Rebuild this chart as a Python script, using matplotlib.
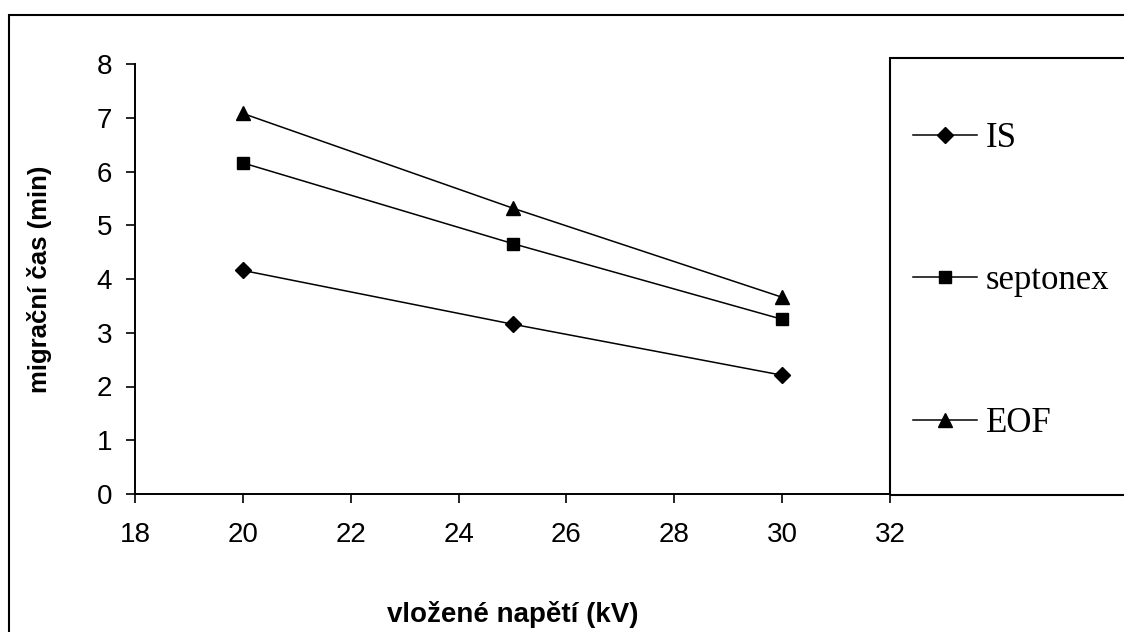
import matplotlib.pyplot as plt
from matplotlib.patches import Rectangle

# data
napeti = [20, 25, 30]
cas_IS = [4.16, 3.16, 2.21]
cas_septonex = [6.16, 4.66, 3.25]
cas_EOF = [7.08, 5.32, 3.66]

xticks = [18, 20, 22, 24, 26, 28, 30, 32]
yticks = [0, 1, 2, 3, 4, 5, 6, 7, 8]

W, H = 1124, 632
fig = plt.figure(figsize=(W / 100, H / 100), dpi=100)

# outer chart frame (cut off at right and bottom)
fig.patches.append(Rectangle((9 / W, -0.1), 1.2, 1.1 - 15 / H,
                             transform=fig.transFigure, fill=False,
                             edgecolor='black', linewidth=1.5))

ax = fig.add_axes([135 / W, 1 - 494 / H, (890 - 135) / W, (494 - 64) / H])

ax.plot(napeti, cas_IS, color='black', lw=1.1, marker='D', ms=8, label='IS')
ax.plot(napeti, cas_septonex, color='black', lw=1.1, marker='s', ms=9, label='septonex')
ax.plot(napeti, cas_EOF, color='black', lw=1.1, marker='^', ms=10.5, label='EOF')

ax.set_xlim(18, 32)
ax.set_ylim(0, 8)
ax.set_xticks(xticks)
ax.set_yticks(yticks)
for s in ['top', 'right']:
    ax.spines[s].set_visible(False)
for s in ['left', 'bottom']:
    ax.spines[s].set_linewidth(1.4)
ax.tick_params(direction='out', length=6.5, width=1.2)
ax.tick_params(axis='y', pad=10)
ax.tick_params(axis='x', pad=14)
for lab in ax.get_xticklabels() + ax.get_yticklabels():
    lab.set_family('Liberation Sans')
    lab.set_fontsize(20)

ax.set_xlabel('vložené napětí (kV)', family='Liberation Sans', fontsize=20, fontweight='bold')
ax.set_ylabel('migrační čas (min)', family='Liberation Sans', fontsize=18.5, fontweight='bold')
ax.xaxis.set_label_coords(0.5, -0.249)
ax.yaxis.set_label_coords(-0.11, 0.5)

# legend box
fig.patches.append(Rectangle((890 / W, 1 - 495 / H), 0.5, (495 - 58) / H,
                             transform=fig.transFigure, fill=False,
                             edgecolor='black', linewidth=1.5))
fig.legend(loc='center left', bbox_to_anchor=(913 / W, 1 - 281 / H),
           frameon=False, prop={'family': 'Liberation Serif', 'size': 25},
           handlelength=1.85, handletextpad=0.25, labelspacing=3.15, borderpad=0,
           borderaxespad=0)

fig.savefig('out.png', dpi=100)
